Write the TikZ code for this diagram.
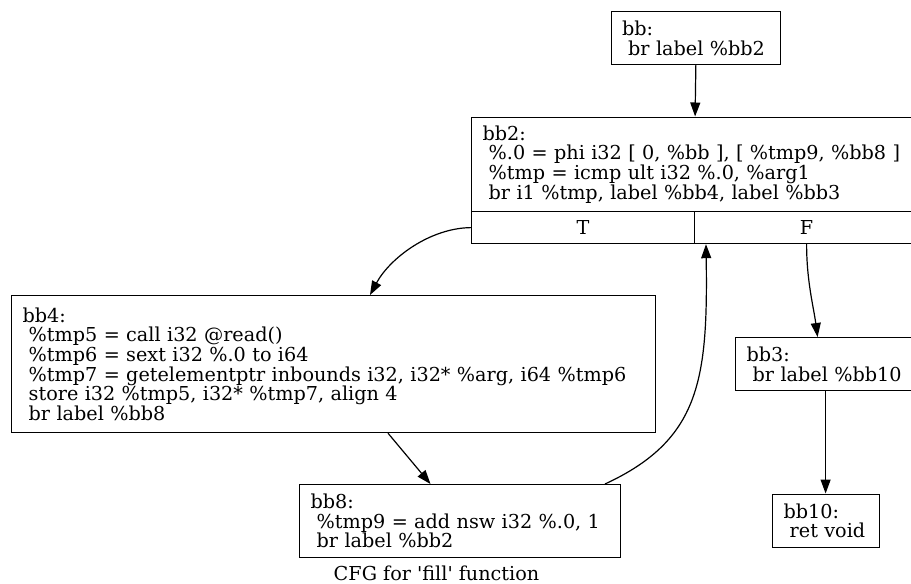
\documentclass[tikz,border=0pt]{standalone}
\usepackage{fontspec}
\setmainfont{DejaVu Serif}
\usetikzlibrary{arrows.meta,calc}
% leading blank of an instruction line
\newcommand\lead{\hspace*{\fontdimen2\font}}
\newcommand\cfgfont{\fontsize{19.2}{19.6}\selectfont}
\tikzset{
  blk/.style={draw, line width=1.2pt, rectangle, anchor=north west,
    inner xsep=11pt, inner ysep=0pt, align=left, font=\cfgfont},
  cell/.style={draw, line width=1.2pt, rectangle, anchor=north west,
    inner sep=0pt, font=\cfgfont},
  arr/.style={line width=1.2pt, -{Triangle[length=14pt,width=10pt]}},
}
\begin{document}
\begin{tikzpicture}[x=1pt,y=-1pt]
\useasboundingbox (0,0) rectangle (911,584);
\fill[white] (0,0) rectangle (911,584);
\clip (0,0) rectangle (911,584);

% basic blocks
\node[blk, text width=147.5pt, minimum height=53pt] (bb) at (610.5,11)
  {bb:\\\lead br label \%bb2};
\node[blk, text width=425pt, minimum height=94.5pt] (bb2) at (471,116.5)
  {bb2:\\\lead \%.0 = phi i32 [ 0, \%bb ], [ \%tmp9, \%bb8 ]\\
   \lead \%tmp = icmp ult i32 \%.0, \%arg1\\
   \lead br i1 \%tmp, label \%bb4, label \%bb3};
\node[cell, minimum width=223pt, minimum height=32pt] (bb2T) at (471,211) {T};
\node[cell, minimum width=224pt, minimum height=32pt] (bb2F) at (694,211) {F};
\node[blk, text width=622pt, minimum height=137pt] (bb4) at (11,295)
  {bb4:\\\lead \%tmp5 = call i32 @read()\\
   \lead \%tmp6 = sext i32 \%.0 to i64\\
   \lead \%tmp7 = getelementptr inbounds i32, i32* \%arg, i64 \%tmp6\\
   \lead store i32 \%tmp5, i32* \%tmp7, align 4\\
   \lead br label \%bb8};
\node[blk, text width=299pt, minimum height=73pt] (bb8) at (299,484)
  {bb8:\\\lead \%tmp9 = add nsw i32 \%.0, 1\\\lead br label \%bb2};
\node[blk, text width=158pt, minimum height=53pt] (bb3) at (735,337)
  {bb3:\\\lead br label \%bb10};
\node[blk, text width=85pt, minimum height=53.5pt] (bb10) at (772,493.5)
  {bb10:\\\lead ret void};

% caption
\node[font=\cfgfont, inner sep=0pt] (title) at (436.5,573)
  {CFG for \textquotesingle fill\textquotesingle{} function};

% control-flow edges
\draw[arr] (bb.south) -- (bb2.north);
\draw[arr] (bb2T.west) .. controls (430,228) and (390,258)
  .. ($(bb4.north west)+(359,0)$);
\draw[arr] (bb2F.south) .. controls +(0,37) and +(-4,-30)
  .. ($(bb3.north)+(-8,0)$);
\draw[arr] ($(bb4.south west)+(377,0)$) -- ($(bb8.north west)+(131.5,0)$);
\draw[arr] ($(bb8.north west)+(306,0)$) .. controls (700,440) and (708,380)
  .. ($(bb2F.south west)+(12,0)$);
\draw[arr] (bb3.south) -- (bb3.south |- bb10.north);
\end{tikzpicture}
\end{document}
